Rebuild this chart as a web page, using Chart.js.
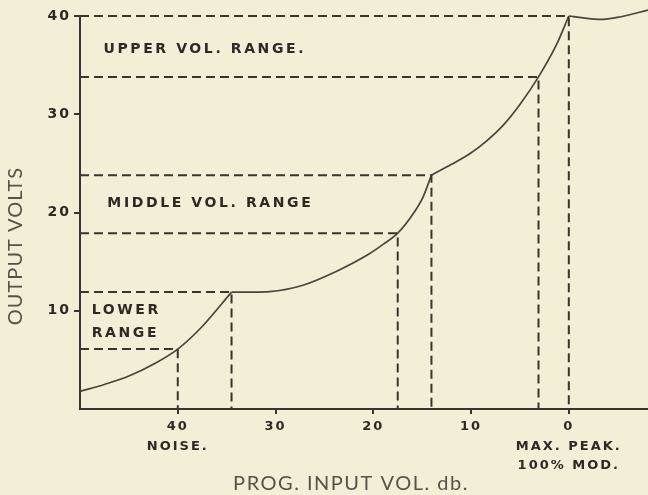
<!DOCTYPE html>
<html>
<head>
<meta charset="utf-8">
<script src="https://cdn.jsdelivr.net/npm/chart.js@4.4.0/dist/chart.umd.min.js"></script>
<style>
  html, body { margin: 0; padding: 0; background: #f3efd6; }
  #wrap { width: 648px; height: 495px; position: relative; }
</style>
</head>
<body>
<div id="wrap"><canvas id="myChart"></canvas></div>
<script>
// response curve, split at the knees so each corner stays sharp
const lowDb = [50, 47.5, 45, 42.5, 40, 37.5, 34.5];
const lowVolts = [1.8, 2.5, 3.35, 4.55, 6.1, 8.4, 11.9];
const midDb = [34.5, 32.5, 30.6, 27.2, 23.8, 20.4, 19, 17.5, 15.9, 14.9, 14.05];
const midVolts = [11.9, 11.9, 11.95, 12.6, 14.0, 15.8, 16.75, 17.9, 19.9, 21.6, 23.8];
const upDb = [14.05, 12, 10.1, 8.4, 6.7, 5.0, 3.1, 1.3, 0];
const upVolts = [23.8, 24.9, 26.0, 27.3, 28.9, 31.0, 33.8, 37.0, 40];
const topDb = [0, -1.5, -3.2, -5.2, -8.1];
const topVolts = [40, 39.8, 39.65, 39.9, 40.6];

// marked points, dashed back to both axes
const markDb = [40, 34.5, 17.5, 14.05, 3.1, 0];
const markVolts = [6.1, 11.9, 17.9, 23.8, 33.8, 40];

const xTicks = [40, 30, 20, 10, 0];
const yTicks = [10, 20, 30, 40];
const xNotes = { 40: ['NOISE.'], 0: ['MAX. PEAK.', '100% MOD.'] };

const ink = '#3a3330';
const labelFont = 'DejaVu Sans';

function pts(xs, ys) {
    return xs.map((x, i) => ({ x: x, y: ys[i] }));
}

const curveSets = [[lowDb, lowVolts], [midDb, midVolts], [upDb, upVolts], [topDb, topVolts]].map(p => ({
    data: pts(p[0], p[1]),
    borderColor: '#4a4340',
    borderWidth: 1.7,
    pointRadius: 0,
    cubicInterpolationMode: 'monotone',
    clip: false
}));

const guideSets = markDb.map((d, i) => ({
    data: [{ x: 50, y: markVolts[i] }, { x: d, y: markVolts[i] }, { x: d, y: 0 }],
    borderColor: ink,
    borderWidth: 2,
    borderDash: [9, 5],
    pointRadius: 0,
    tension: 0,
    clip: false
}));

// range captions inside the plot, placed in data units
const captions = [
    { text: 'UPPER VOL. RANGE.', db: 47.6, v: 36.6 },
    { text: 'MIDDLE VOL. RANGE', db: 47.2, v: 20.9 },
    { text: 'LOWER', db: 48.8, v: 10.0 },
    { text: 'RANGE', db: 48.8, v: 7.7 }
];

const textPlugin = {
    id: 'oldText',
    beforeDraw(chart) {
        chart.ctx.letterSpacing = '2px';
    },
    afterDraw(chart) {
        const c = chart.ctx;
        const xs = chart.scales.x, ys = chart.scales.y;
        c.save();
        c.fillStyle = '#2e2826';
        c.font = 'bold 14px "' + labelFont + '"';
        c.letterSpacing = '2.6px';
        c.textAlign = 'left';
        c.textBaseline = 'middle';
        captions.forEach(t => c.fillText(t.text, xs.getPixelForValue(t.db), ys.getPixelForValue(t.v)));

        // axis titles
        c.fillStyle = '#56514d';
        c.font = '20px Lato';
        c.letterSpacing = '1.5px';
        c.textAlign = 'center';
        c.fillText('PROG. INPUT VOL. db.', 351, 484);
        c.letterSpacing = '1px';
        c.translate(16, 246);
        c.rotate(-Math.PI / 2);
        c.fillText('OUTPUT VOLTS', 0, 0);
        c.restore();
    }
};

window.onload = function () {
    new Chart(document.getElementById('myChart'), {
        type: 'line',
        data: { datasets: guideSets.concat(curveSets) },
        options: {
            responsive: true,
            maintainAspectRatio: false,
            animation: false,
            layout: { padding: { top: 16, right: 0, left: 0, bottom: 0 } },
            plugins: { legend: { display: false }, tooltip: { enabled: false } },
            scales: {
                x: {
                    type: 'linear',
                    reverse: true,
                    min: -8.1,
                    max: 50,
                    afterBuildTicks: s => { s.ticks = xTicks.map(v => ({ value: v })); },
                    afterFit: s => { s.height = 86; },
                    grid: { drawOnChartArea: false, drawTicks: true, tickLength: 5, color: ink, lineWidth: 2 },
                    border: { display: true, color: ink, width: 2 },
                    ticks: {
                        color: '#2e2826',
                        padding: 3,
                        maxRotation: 0,
                        autoSkip: false,
                        font: { family: labelFont, size: 13, weight: 'bold', lineHeight: 1.5 },
                        callback: v => xNotes[v] ? [String(v)].concat(xNotes[v]) : String(v)
                    }
                },
                y: {
                    type: 'linear',
                    min: 0,
                    max: 40,
                    afterBuildTicks: s => { s.ticks = yTicks.map(v => ({ value: v })); },
                    afterFit: s => { s.width = 80; },
                    grid: { drawOnChartArea: false, drawTicks: true, tickLength: 6, color: ink, lineWidth: 2 },
                    border: { display: true, color: ink, width: 2 },
                    ticks: {
                        color: '#2e2826',
                        padding: 3,
                        font: { family: labelFont, size: 14, weight: 'bold' }
                    }
                }
            }
        },
        plugins: [textPlugin]
    });
};
</script>
</body>
</html>
